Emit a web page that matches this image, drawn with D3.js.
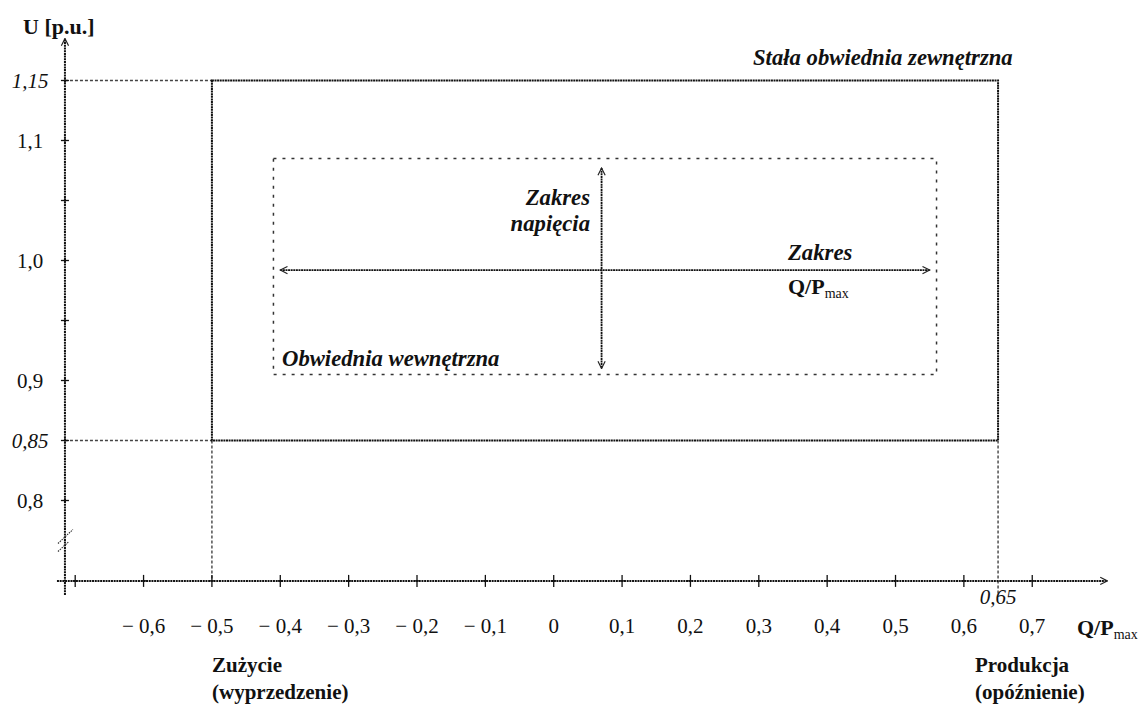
<!DOCTYPE html>
<html><head><meta charset="utf-8">
<script src="https://cdn.jsdelivr.net/npm/d3@7"></script>
<style>
html,body{margin:0;padding:0;background:#fff;}
svg text{font-family:"Liberation Serif","DejaVu Serif",serif;fill:#111;}
</style></head>
<body>
<svg id="chart" width="1143" height="709"></svg>
<script>
// ---- data ----
const yTicks = [0.8, 0.85, 0.9, 0.95, 1.0, 1.05, 1.1, 1.15];
const yTickLabels = {0.8:"0,8", 0.85:"0,85", 0.9:"0,9", 1.0:"1,0", 1.1:"1,1", 1.15:"1,15"};
const yItalic = [0.85, 1.15];
const xTicks = [-0.7,-0.6,-0.5,-0.4,-0.3,-0.2,-0.1,0,0.1,0.2,0.3,0.4,0.5,0.6,0.7];
const xTickLabels = {"-0.6":"− 0,6","-0.5":"− 0,5","-0.4":"− 0,4","-0.3":"− 0,3","-0.2":"− 0,2","-0.1":"− 0,1",
  "0":"0","0.1":"0,1","0.2":"0,2","0.3":"0,3","0.4":"0,4","0.5":"0,5","0.6":"0,6","0.7":"0,7"};
const outerEnvelope = {qMin:-0.5, qMax:0.65, uMin:0.85, uMax:1.15};
const innerEnvelope = {qMin:-0.41, qMax:0.56, uMin:0.905, uMax:1.085};
const qRangeArrow = {q1:-0.40, q2:0.55, u:0.992};
const uRangeArrow = {q:0.07, u1:1.077, u2:0.910};
const axisBaseU = 0.733;   // broken axis: x-axis drawn at this (compressed) level
const axisLeftQ = -0.715;  // y-axis position
const xAxisEnd = 0.81;
const yAxisTop = 1.185;

// ---- scales ----
const x = d3.scaleLinear().domain([-0.7, 0.8]).range([75.2, 1100.6]);
const y = d3.scaleLinear().domain([0.75, 1.2]).range([560.5, 20.5]);

const svg = d3.select("#chart");
const defs = svg.append("defs");
defs.append("marker").attr("id","arr").attr("viewBox","0 0 10 10").attr("refX",9).attr("refY",5)
  .attr("markerWidth",9).attr("markerHeight",9).attr("markerUnits","userSpaceOnUse")
  .attr("orient","auto-start-reverse")
  .append("path").attr("d","M1,1 L9,5 L1,9").attr("fill","none").attr("stroke","#222").attr("stroke-width",1.3);

const ax0 = x(axisLeftQ), ay0 = y(axisBaseU);

// extension dashed lines
const ext = svg.append("g").attr("stroke","#444").attr("stroke-width",1.4).attr("stroke-dasharray","3,2").attr("fill","none");
ext.append("line").attr("x1",ax0).attr("x2",x(outerEnvelope.qMin)).attr("y1",y(outerEnvelope.uMax)).attr("y2",y(outerEnvelope.uMax));
ext.append("line").attr("x1",ax0).attr("x2",x(outerEnvelope.qMin)).attr("y1",y(outerEnvelope.uMin)).attr("y2",y(outerEnvelope.uMin));
ext.append("line").attr("x1",x(outerEnvelope.qMin)).attr("x2",x(outerEnvelope.qMin)).attr("y1",y(outerEnvelope.uMin)).attr("y2",ay0);
ext.append("line").attr("x1",x(outerEnvelope.qMax)).attr("x2",x(outerEnvelope.qMax)).attr("y1",y(outerEnvelope.uMin)).attr("y2",ay0+14);

// outer envelope
svg.append("rect")
  .attr("x",x(outerEnvelope.qMin)).attr("y",y(outerEnvelope.uMax))
  .attr("width",x(outerEnvelope.qMax)-x(outerEnvelope.qMin)).attr("height",y(outerEnvelope.uMin)-y(outerEnvelope.uMax))
  .attr("fill","none").attr("stroke","#111").attr("stroke-width",2).attr("stroke-dasharray","2,0.6");

// inner envelope
svg.append("rect")
  .attr("x",x(innerEnvelope.qMin)).attr("y",y(innerEnvelope.uMax))
  .attr("width",x(innerEnvelope.qMax)-x(innerEnvelope.qMin)).attr("height",y(innerEnvelope.uMin)-y(innerEnvelope.uMax))
  .attr("fill","none").attr("stroke","#333").attr("stroke-width",1.5).attr("stroke-dasharray","3,6");

// range arrows
svg.append("line").attr("x1",x(qRangeArrow.q1)).attr("x2",x(qRangeArrow.q2)).attr("y1",y(qRangeArrow.u)).attr("y2",y(qRangeArrow.u))
  .attr("stroke","#111").attr("stroke-width",1.8).attr("stroke-dasharray","2,0.6")
  .attr("marker-start","url(#arr)").attr("marker-end","url(#arr)");
svg.append("line").attr("x1",x(uRangeArrow.q)).attr("x2",x(uRangeArrow.q)).attr("y1",y(uRangeArrow.u1)).attr("y2",y(uRangeArrow.u2))
  .attr("stroke","#111").attr("stroke-width",1.8).attr("stroke-dasharray","2,0.6")
  .attr("marker-start","url(#arr)").attr("marker-end","url(#arr)");

// axes
const axG = svg.append("g").attr("stroke","#111").attr("stroke-width",2).attr("fill","none");
axG.append("line").attr("x1",ax0).attr("x2",ax0).attr("y1",ay0+14).attr("y2",y(yAxisTop))
  .attr("stroke-dasharray","2,0.7").attr("marker-end","url(#arr)");
axG.append("line").attr("x1",ax0-8).attr("x2",x(xAxisEnd)).attr("y1",ay0).attr("y2",ay0)
  .attr("stroke-dasharray","2,0.7").attr("marker-end","url(#arr)");

// ticks
const tk = svg.append("g").attr("stroke","#111").attr("stroke-width",1.3);
yTicks.forEach(v=>{
  tk.append("line").attr("x1",ax0-4).attr("x2",ax0+4).attr("y1",y(v)).attr("y2",y(v));
  tk.append("line").attr("x1",ax0).attr("x2",ax0).attr("y1",y(v)-2.5).attr("y2",y(v)+2.5);
});
xTicks.forEach(v=>{
  tk.append("line").attr("x1",x(v)).attr("x2",x(v)).attr("y1",ay0-6).attr("y2",ay0+6);
  tk.append("line").attr("x1",x(v)-2.5).attr("x2",x(v)+2.5).attr("y1",ay0).attr("y2",ay0);
});

// axis break mark
const bY = y(0.77);
const br = svg.append("g").attr("stroke","#333").attr("stroke-width",1.1).attr("stroke-dasharray","1.5,1");
br.append("line").attr("x1",ax0-7).attr("y1",bY+7).attr("x2",ax0+8).attr("y2",bY-7);
br.append("line").attr("x1",ax0-7).attr("y1",bY+15).attr("x2",ax0+4).attr("y2",bY+5);

// y tick labels
yTicks.filter(v=>yTickLabels[v]).forEach(v=>{
  svg.append("text").attr("x",30).attr("y",y(v)+7).attr("text-anchor","middle")
    .style("font-size","21px").style("font-style", yItalic.includes(v)?"italic":"normal").text(yTickLabels[v]);
});
// x tick labels
xTicks.forEach(v=>{
  const key = String(Math.round(v*10)/10);
  if(!xTickLabels[key]) return;
  svg.append("text").attr("x",x(v)).attr("y",ay0+52).attr("text-anchor","middle")
    .style("font-size","21px").text(xTickLabels[key]);
});
svg.append("text").attr("x",x(outerEnvelope.qMax)).attr("y",ay0+23).attr("text-anchor","middle")
  .style("font-size","21px").style("font-style","italic").text("0,65");

// axis titles
svg.append("text").attr("x",23).attr("y",34).style("font-size","22px").style("font-weight","bold").text("U [p.u.]");

function qp(xp,yp){
  const t = svg.append("text").attr("x",xp).attr("y",yp).style("font-size","22px");
  t.append("tspan").style("font-weight","bold").text("Q/P");
  t.append("tspan").attr("dy",4).style("font-size","14px").text("max");
  return t;
}
qp(1077, ay0+54);

// annotations
function bt(txt,xp,yp,opts={}){
  return svg.append("text").attr("x",xp).attr("y",yp).attr("text-anchor",opts.anchor||"start")
    .style("font-size",(opts.size||21)+"px").style("font-weight","bold").style("font-style",opts.italic?"italic":"normal").text(txt);
}
bt("Stała obwiednia zewnętrzna",753,65,{italic:true,size:22.7});
bt("Zakres",590,205,{italic:true,anchor:"end",size:22.7});
bt("napięcia",590,231,{italic:true,anchor:"end",size:22.7});
bt("Zakres",788,260,{italic:true,size:22.7});
qp(788,294);
bt("Obwiednia wewnętrzna",282,366,{italic:true,size:22.7});
bt("Zużycie",212,672);
bt("(wyprzedzenie)",212,699);
bt("Produkcja",975,672);
bt("(opóźnienie)",975,699);
</script>
</body></html>
